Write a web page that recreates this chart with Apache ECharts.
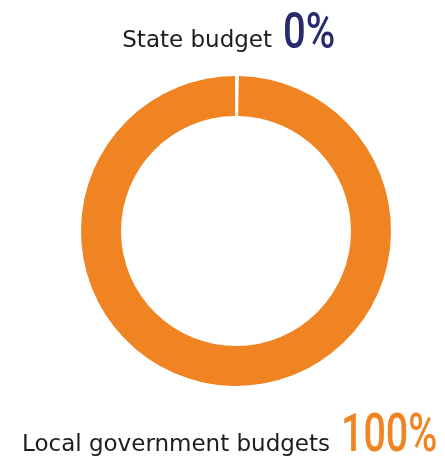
<!DOCTYPE html>
<html>
<head>
<meta charset="utf-8">
<script src="https://cdn.jsdelivr.net/npm/echarts@6/dist/echarts.min.js"></script>
<style>
  html, body { margin: 0; padding: 0; background: #fff; }
  #main { width: 445px; height: 461px; }
</style>
</head>
<body>
<div id="main"></div>
<script>
const categories = ['State budget', 'Local government budgets']
const shares = [0, 100]
const colors = ['#272b6c', '#f08422']

const chart = echarts.init(document.getElementById('main'))

// label rows: name right-aligned at splitX, percentage (condensed) after it
const rows = [
  { splitX: 272, baseY: 48, numSize: 50, scaleX: 0.8 },
  { splitX: 330, baseY: 452, numSize: 54, scaleX: 0.73 }
]

const graphics = []
rows.forEach((row, i) => {
  graphics.push({
    type: 'text',
    x: row.splitX,
    y: row.baseY + 5,
    silent: true,
    style: {
      text: categories[i],
      font: '23px "DejaVu Sans"',
      fill: '#1d1d1d',
      textAlign: 'right',
      textVerticalAlign: 'bottom'
    }
  })
  graphics.push({
    type: 'text',
    x: row.splitX + 11,
    y: row.baseY + 12,
    scaleX: row.scaleX,
    silent: true,
    style: {
      text: shares[i] + '%',
      font: '500 ' + row.numSize + 'px Roboto',
      fill: colors[i],
      textAlign: 'left',
      textVerticalAlign: 'bottom'
    }
  })
})

chart.setOption({
  animation: false,
  graphic: graphics,
  series: [{
    type: 'pie',
    center: [236, 231],
    radius: [115, 155],
    startAngle: 90,
    padAngle: 0.7,
    label: { show: false },
    labelLine: { show: false },
    emphasis: { disabled: true },
    data: categories.map((name, i) => ({
      name: name,
      value: shares[i],
      itemStyle: { color: colors[1] }
    }))
  }]
})
</script>
</body>
</html>
